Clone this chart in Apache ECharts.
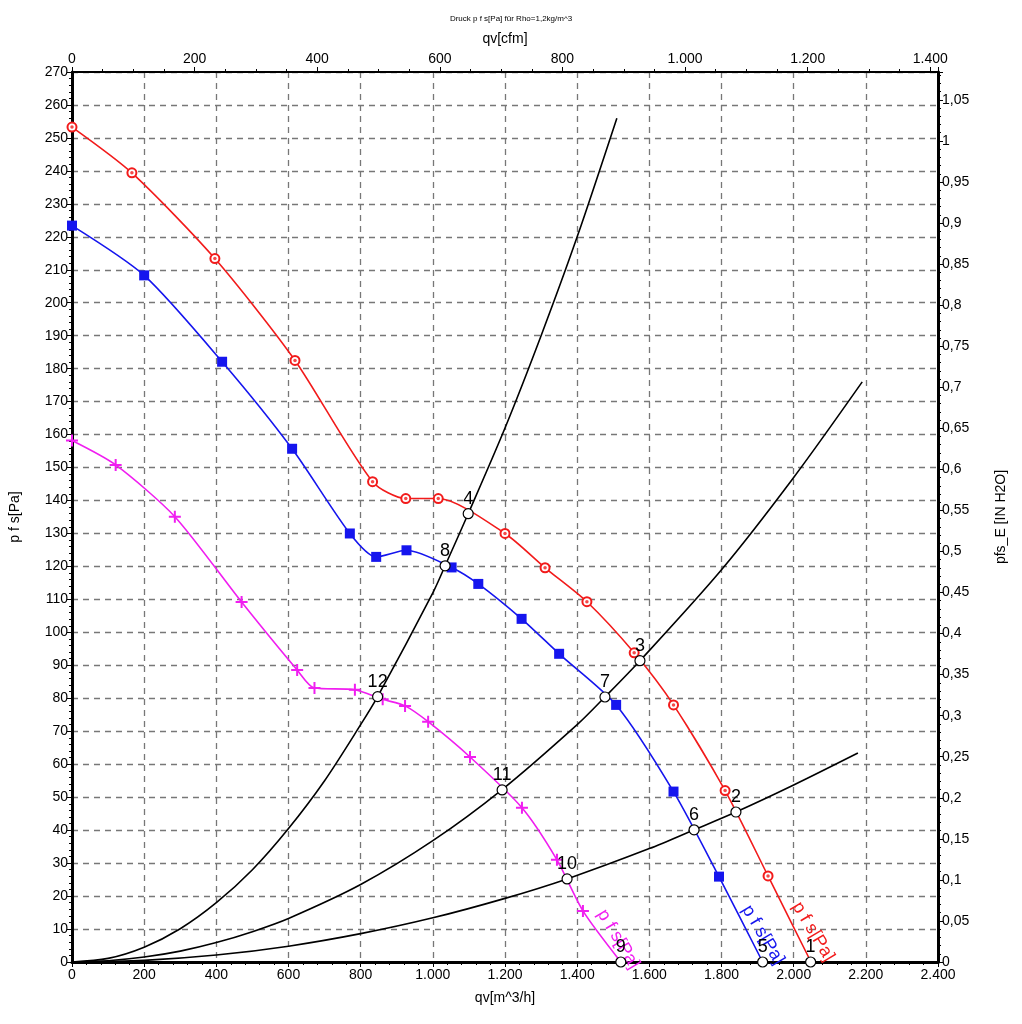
<!DOCTYPE html>
<html>
<head>
<meta charset="utf-8">
<script src="https://cdn.jsdelivr.net/npm/echarts@6/dist/echarts.min.js"></script>
<style>
html,body{margin:0;padding:0;background:#fff;}
#chart{width:1022px;height:1024px;}
</style>
</head>
<body>
<div id="chart"></div>
<script>
// ---- data (qv in m^3/h, p in Pa) ----
const redQ  = [0, 166, 396, 618, 833, 925, 1015, 1200, 1311, 1427, 1558, 1667, 1810, 1929, 2048];
const redP  = [253.3, 239.4, 213.4, 182.5, 145.7, 140.6, 140.6, 130, 119.6, 109.3, 93.8, 78, 52, 26.1, 0];
const blueQ = [0, 200, 416, 610, 770, 843, 927, 1052, 1126, 1246, 1350, 1508, 1667, 1793, 1914];
const blueP = [223.4, 208.3, 182.1, 155.7, 130, 122.9, 124.9, 119.7, 114.7, 104.1, 93.5, 78, 51.7, 25.9, 0];
const magQ  = [0, 121, 285, 470, 624, 672, 784, 861, 923, 987, 1103, 1247, 1344, 1416, 1521];
const magP  = [158.2, 150.8, 135.1, 109.2, 88.6, 83.1, 82.6, 79.7, 77.7, 72.9, 62.2, 46.8, 31, 15.5, 0];

const sysAQ = [0, 100, 200, 300, 400, 500, 600, 700, 800, 847, 1000, 1034, 1098, 1200, 1300, 1400, 1510];
const sysAP = [0, 1.1, 4.5, 10.1, 18, 28, 40.5, 55, 72, 80.5, 112, 120.2, 136, 162, 190, 220, 256];
const sysBQ = [0, 100, 200, 300, 400, 500, 600, 800, 1000, 1192, 1400, 1477, 1574, 1800, 2000, 2190];
const sysBP = [0, 0.4, 1.5, 3.3, 5.9, 9.2, 13.2, 23.5, 36.8, 52.3, 72, 80.4, 91.4, 119, 147, 176];
const sysCQ = [0, 200, 400, 600, 800, 1000, 1200, 1372, 1600, 1724, 1840, 2000, 2178];
const sysCP = [0, 0.5, 2.1, 4.8, 8.6, 13.4, 19.3, 25.2, 34.4, 40.1, 45.5, 53.7, 63.4];

const opLabels = ['1','2','3','4','5','6','7','8','9','10','11','12'];
const opQ = [2047, 1840, 1574, 1098, 1914, 1724, 1477, 1034, 1521, 1372, 1192, 847];
const opP = [0, 45.5, 91.4, 136, 0, 40.1, 80.4, 120.2, 0, 25.2, 52.2, 80.5];

const curveLabel = 'p f s[Pa]';
const redLabelAt  = [2054, 9.2];
const blueLabelAt = [1915, 8.2];
const magLabelAt  = [1514, 6.9];

const xTicksBottom = {min: 0, max: 2400, interval: 200};
const yTicksLeft = {min: 0, max: 270, interval: 10};
const CFM_PER_M3H = 0.588578;
const PA_PER_INH2O = 249.0889;

// ---- helpers ----
const FONT = 'Liberation Sans';
function thousands(v){
  v = Math.round(v);
  if (v >= 1000) return Math.floor(v/1000) + '.' + String(v % 1000).padStart(3,'0');
  return String(v);
}
function pairs(q, p, noEndSymbol){
  return q.map((x,i) => (noEndSymbol && i === q.length-1) ? {value:[x,p[i]], symbol:'none'} : [x,p[i]]);
}
const plusPath = 'path://M5,0 L7,0 L7,5 L12,5 L12,7 L7,7 L7,12 L5,12 L5,7 L0,7 L0,5 L5,5 Z';

const RED = '#f21b1b', BLUE = '#1515ee', MAG = '#f01ef0';

function curveLabelMark(at, color){
  return {
    symbol: 'circle', symbolSize: 1, silent: true, animation: false,
    itemStyle: {color: 'rgba(0,0,0,0)'},
    label: {show: true, formatter: curveLabel, color: color, fontFamily: FONT, fontSize: 18,
            rotate: -59, position: 'inside', align: 'center', verticalAlign: 'middle'},
    data: [{coord: at, value: 0}]
  };
}

const gridLine = {show: true, lineStyle: {color: '#777', type: [6,5], width: 1.3}};

const option = {
  animation: false,
  backgroundColor: '#fff',
  title: {
    text: 'Druck p f s[Pa] für Rho=1,2kg/m^3',
    left: 'center', top: 10,
    textStyle: {fontFamily: FONT, fontSize: 8, fontWeight: 'normal', color: '#000'}
  },
  grid: {left: 72, right: 84, top: 72, bottom: 62},
  xAxis: [{
    type: 'value', position: 'bottom',
    min: xTicksBottom.min, max: xTicksBottom.max, interval: xTicksBottom.interval,
    name: 'qv[m^3/h]', nameLocation: 'middle', nameGap: 29,
    nameTextStyle: {fontFamily: FONT, fontSize: 14, color: '#000'},
    axisLine: {show: true, onZero: false, lineStyle: {color: '#000', width: 3}},
    axisTick: {show: true, length: 5, lineStyle: {color: '#000', width: 1}},
    minorTick: {show: true, splitNumber: 5, length: 3, lineStyle: {color: '#000'}},
    axisLabel: {fontFamily: FONT, fontSize: 14, color: '#000', margin: 6, formatter: thousands},
    splitLine: gridLine
  }, {
    type: 'value', position: 'top',
    min: 0, max: xTicksBottom.max * CFM_PER_M3H, interval: 200,
    name: 'qv[cfm]', nameLocation: 'middle', nameGap: 26,
    nameTextStyle: {fontFamily: FONT, fontSize: 14, color: '#000'},
    axisLine: {show: true, onZero: false, lineStyle: {color: '#000', width: 2}},
    axisTick: {show: true, length: 5, lineStyle: {color: '#000'}},
    minorTick: {show: true, splitNumber: 4, length: 3, lineStyle: {color: '#000'}},
    axisLabel: {fontFamily: FONT, fontSize: 14, color: '#000', margin: 6, formatter: thousands, showMaxLabel: false},
    splitLine: {show: false}
  }],
  yAxis: [{
    type: 'value', position: 'left',
    min: yTicksLeft.min, max: yTicksLeft.max, interval: yTicksLeft.interval,
    name: 'p f s[Pa]', nameLocation: 'middle', nameGap: 50, nameRotate: 90,
    nameTextStyle: {fontFamily: FONT, fontSize: 14, color: '#000'},
    axisLine: {show: true, onZero: false, lineStyle: {color: '#000', width: 3}},
    axisTick: {show: true, length: 5, lineStyle: {color: '#000'}},
    minorTick: {show: true, splitNumber: 5, length: 3, lineStyle: {color: '#000'}},
    axisLabel: {fontFamily: FONT, fontSize: 14, color: '#000', margin: 4},
    splitLine: gridLine
  }, {
    type: 'value', position: 'right',
    min: 0, max: yTicksLeft.max / PA_PER_INH2O, interval: 0.05,
    name: 'pfs_E [IN H2O]', nameLocation: 'middle', nameGap: 56, nameRotate: 90,
    nameTextStyle: {fontFamily: FONT, fontSize: 14, color: '#000'},
    axisLine: {show: true, onZero: false, lineStyle: {color: '#000', width: 3}},
    axisTick: {show: true, length: 5, lineStyle: {color: '#000'}},
    minorTick: {show: true, splitNumber: 5, length: 3, lineStyle: {color: '#000'}},
    axisLabel: {fontFamily: FONT, fontSize: 14, color: '#000', margin: 4, showMaxLabel: false,
      formatter: v => String(Math.round(v*100)/100).replace('.', ',')},
    splitLine: {show: false}
  }],
  series: [
    // system curves
    {type: 'line', data: pairs(sysAQ, sysAP), smooth: 0.3, showSymbol: false,
     lineStyle: {color: '#000', width: 1.6}, z: 3},
    {type: 'line', data: pairs(sysBQ, sysBP), smooth: 0.3, showSymbol: false,
     lineStyle: {color: '#000', width: 1.6}, z: 3},
    {type: 'line', data: pairs(sysCQ, sysCP), smooth: 0.3, showSymbol: false,
     lineStyle: {color: '#000', width: 1.6}, z: 3},
    // fan curves
    {type: 'line', data: pairs(redQ, redP, true), smooth: 0.25,
     symbol: 'emptyCircle', symbolSize: 9,
     itemStyle: {color: RED, borderWidth: 1.5}, lineStyle: {color: RED, width: 1.6}, z: 4,
     markPoint: curveLabelMark(redLabelAt, RED)},
    {type: 'scatter', data: pairs(redQ.slice(0,-1), redP.slice(0,-1)), symbol: 'circle', symbolSize: 3.5,
     itemStyle: {color: RED}, silent: true, z: 5},
    {type: 'line', data: pairs(blueQ, blueP, true), smooth: 0.25,
     symbol: 'rect', symbolSize: 10,
     itemStyle: {color: BLUE}, lineStyle: {color: BLUE, width: 1.6}, z: 4,
     markPoint: curveLabelMark(blueLabelAt, BLUE)},
    {type: 'line', data: pairs(magQ, magP, true), smooth: 0.25,
     symbol: plusPath, symbolSize: 12,
     itemStyle: {color: MAG}, lineStyle: {color: MAG, width: 1.6}, z: 4,
     markPoint: curveLabelMark(magLabelAt, MAG)},
    // operating points
    {type: 'scatter', data: opQ.map((q,i) => ({value: [q, opP[i]], name: opLabels[i]})),
     symbol: 'circle', symbolSize: 10,
     itemStyle: {color: '#fff', borderColor: '#000', borderWidth: 1.2, opacity: 1}, z: 10,
     label: {show: true, position: 'top', distance: 0, formatter: p => p.name,
             fontFamily: FONT, fontSize: 18, color: '#000'}}
  ]
};

const chart = echarts.init(document.getElementById('chart'), null, {renderer: 'canvas'});
chart.setOption(option);
</script>
</body>
</html>
